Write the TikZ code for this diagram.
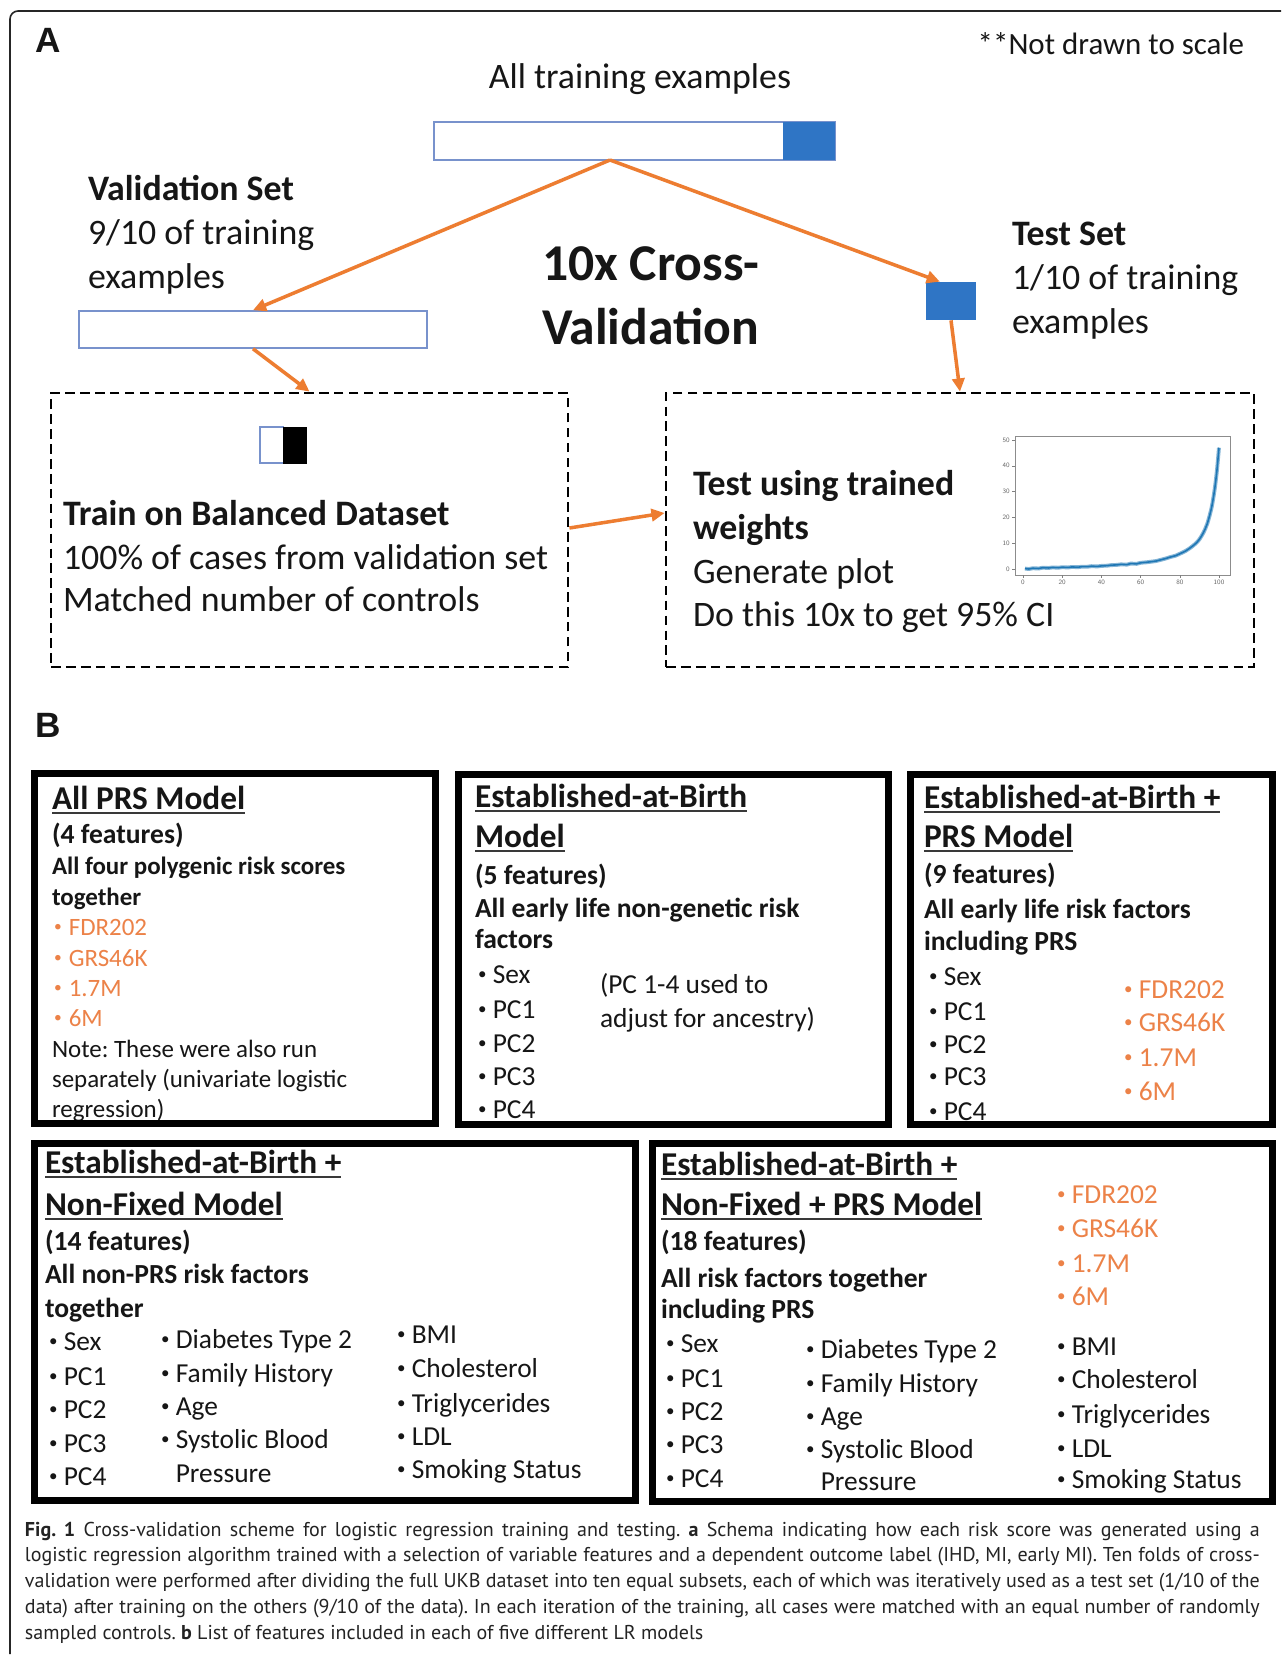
\documentclass[tikz,border=0pt]{standalone}
\usepackage{fontspec}
\usepackage{graphicx}
\setmainfont{Carlito}
\newfontfamily\capfont{PT Sans}
\newfontfamily\labfont{Liberation Sans}
\usetikzlibrary{arrows.meta,fit,calc}
\frenchspacing
\definecolor{orng}{RGB}{237,125,49}
\definecolor{orngtxt}{RGB}{236,130,72}
\definecolor{blu}{RGB}{47,117,197}
\definecolor{barline}{RGB}{120,146,204}
\definecolor{ink}{RGB}{22,22,22}
\definecolor{capink}{RGB}{35,35,35}
\definecolor{plotblue}{RGB}{31,119,180}
\newcommand\myul[1]{\setbox0\hbox{#1}\leavevmode\rlap{\color{ink!85}\rule[-2.9pt]{\wd0}{1.1pt}}\box0}
\newcommand\bul{\makebox[9pt][l]{\hspace{0.6pt}\raisebox{0.13em}{\scalebox{0.62}{•}}}}
\newcommand\capline[1]{\makebox[24.7cm][s]{#1}}
\tikzset{
  txt/.style={anchor=base west, inner sep=0pt, outer sep=0pt, text=ink},
  fA/.style={txt, font=\fontsize{20.4pt}{24pt}\selectfont},
  fAb/.style={txt, font=\fontsize{20.4pt}{24pt}\selectfont\bfseries},
  fBig/.style={txt, font=\fontsize{29.4pt}{34pt}\selectfont\bfseries},
  fNote/.style={txt, anchor=base east, font=\fontsize{17.6pt}{20pt}\selectfont},
  fLab/.style={txt, font=\fontsize{20pt}{22pt}\selectfont\labfont\bfseries},
  hdtxt/.style={txt, font=\fontsize{18.95pt}{22pt}\selectfont\bfseries},
  sbtxt/.style={txt, font=\fontsize{15.7pt}{18pt}\selectfont\bfseries},
  itmtxt/.style={txt, font=\fontsize{15.6pt}{18pt}\selectfont},
  itmor/.style={itmtxt, text=orngtxt},
  sbsmall/.style={txt, font=\fontsize{14.2pt}{18pt}\selectfont\bfseries},
  itsmall/.style={txt, font=\fontsize{14.2pt}{18pt}\selectfont},
  itsmallor/.style={itsmall, text=orngtxt},
  captxt/.style={txt, text=capink, font=\fontsize{11.4pt}{14pt}\selectfont\capfont\frenchspacing},
  arr/.style={draw=orng, line width=2pt, -{Triangle[length=7.5pt,width=7pt]}},
  dbox/.style={draw=black, line width=1.6pt, dash pattern=on 5.5pt off 3pt, inner sep=0pt},
  mbox/.style={draw=black, line width=4pt, inner sep=0pt},
  barbox/.style={draw=barline, line width=0.9pt, inner sep=0pt},
  ticklab/.style={inner sep=0pt, text=black!60, font=\fontsize{3.8pt}{4pt}\selectfont\sffamily},
}
\begin{document}
\begin{tikzpicture}[x=0.02cm, y=-0.02cm]
\useasboundingbox (0,0) rectangle (1281,1656);
\fill[white] (0,0) rectangle (1281,1656);
% outer frame
\draw[line width=0.9pt, black!85, rounded corners=0.16cm] (10,1654) -- (10,11) -- (1281,11);

% ---------------- Part A ----------------
\node[fLab] (labA) at (35,53) {A};
\node[fNote] (note) at (1244,55) {**Not drawn to scale};
\node[fA, anchor=base] (alltxt) at (640,89) {All training examples};

\node[barbox, fit={(434,122) (835,160)}] (topbar) {};
\node[fill=blu, inner sep=0pt, fit={(783,122.5) (834.5,159.5)}] (topblue) {};
\coordinate (split) at (610,160);

\node[fAb] (valset) at (88,200) {Validation Set};
\node[fA] (val2) at (88,244) {9/10 of training};
\node[fA] (val3) at (88,288) {examples};

\node[fBig] (cv1) at (542,280) {10x Cross-};
\node[fBig] (cv2) at (542,344) {Validation};

\node[fAb] (testset) at (1012,245) {Test Set};
\node[fA] (test2) at (1012,289) {1/10 of training};
\node[fA] (test3) at (1012,333) {examples};

\node[barbox, fit={(79,311) (427,348)}] (leftbar) {};
\node[fill=blu, inner sep=0pt, fit={(926,282) (976,320)}] (bluesq) {};

\node[dbox, fit={(51,393) (568,667)}] (lbox) {};
\node[dbox, fit={(666,393) (1254,667)}] (rbox) {};

% balanced mini box
\node[draw=barline, line width=0.8pt, fill=white, inner sep=0pt, fit={(260,427) (283.5,463)}] (balw) {};
\node[draw=black, fill=black, inner sep=0pt, fit={(283.5,427) (306,463)}] (balb) {};

\node[fAb] (tr1) at (63,525) {Train on Balanced Dataset};
\node[fA] (tr2) at (63,569) {100\% of cases from validation set};
\node[fA] (tr3) at (63,611) {Matched number of controls};

\node[fAb] (te1) at (693,495) {Test using trained};
\node[fAb] (te2) at (693,539) {weights};
\node[fA] (te3) at (693,583) {Generate plot};
\node[fA] (te4) at (693,626) {Do this 10x to get 95\% CI};

% plot
\node[draw=black!45, line width=0.4pt, inner sep=0pt, fit={(1015,436) (1230,575)}] (plotframe) {};
\foreach \v [count=\i] in {0,10,20,30,40,50}{
  \coordinate (ytk\i) at (1015,569-2.58*\v);
  \draw[black!50, line width=0.3pt] (ytk\i) -- ++(-3,0);
  \node[ticklab, anchor=east] (ylab\i) at (1010,569-2.58*\v) {\v};
}
\foreach \v [count=\i] in {0,20,40,60,80,100}{
  \coordinate (xtk\i) at (1023+1.96*\v,575);
  \draw[black!50, line width=0.3pt] (xtk\i) -- ++(0,3);
  \node[ticklab, anchor=north] (xlab\i) at (1023+1.96*\v,580) {\v};
}
\begin{scope}[shift={(1023,569)}, x=0.0392cm, y=0.0516cm]
\draw[plotblue!55, line width=2.2pt, line join=round] plot[smooth] coordinates {
 (1,0.2) (3,0.0) (5,0.3) (8,0.2) (10,0.5) (13,0.4) (15,0.6) (18,0.5) (20,0.7) (23,0.6)
 (25,0.8) (28,0.7) (30,0.9) (33,0.9) (35,1.1) (38,1.0) (40,1.2) (43,1.3) (45,1.5)
 (48,1.6) (50,1.8) (53,1.7) (55,2.1) (58,2.0) (60,2.4) (63,2.6) (65,2.8) (68,3.1)
 (70,3.5) (73,4.1) (75,4.6) (78,5.2) (80,5.9) (83,7.0) (85,8.0) (88,9.8) (90,11.5)
 (92,14) (94,17.5) (96,23) (97,27) (98,32) (99,38.5) (100,47)};
\draw[plotblue, line width=0.9pt, line join=round] plot[smooth] coordinates {
 (1,0.2) (3,0.0) (5,0.3) (8,0.2) (10,0.5) (13,0.4) (15,0.6) (18,0.5) (20,0.7) (23,0.6)
 (25,0.8) (28,0.7) (30,0.9) (33,0.9) (35,1.1) (38,1.0) (40,1.2) (43,1.3) (45,1.5)
 (48,1.6) (50,1.8) (53,1.7) (55,2.1) (58,2.0) (60,2.4) (63,2.6) (65,2.8) (68,3.1)
 (70,3.5) (73,4.1) (75,4.6) (78,5.2) (80,5.9) (83,7.0) (85,8.0) (88,9.8) (90,11.5)
 (92,14) (94,17.5) (96,23) (97,27) (98,32) (99,38.5) (100,47)};
\end{scope}

% arrows
\draw[arr] (split) -- (leftbar.north);
\draw[arr] (split) -- ($(bluesq.north west)!0.28!(bluesq.north east)$);
\draw[arr] (leftbar.south) -- (lbox.north);
\draw[arr] (bluesq.south) -- (rbox.north);
\draw[arr] ($(lbox.east)+(0,-2)$) -- ($(rbox.west)+(0,-17)$);

% ---------------- Part B ----------------
\node[fLab] (labB) at (35,737) {B};

% Box 1
\node[hdtxt] (b1h) at (52,809) {\myul{All PRS Model}};
\node[sbtxt] (b1f) at (52,843) {(4 features)};
\node[sbsmall] (b1d1) at (52,874) {All four polygenic risk scores};
\node[sbsmall] (b1d2) at (52,905) {together};
\node[itsmallor] (b1o1) at (53,935) {\bul FDR202};
\node[itsmallor] (b1o2) at (53,966) {\bul GRS46K};
\node[itsmallor] (b1o3) at (53,996) {\bul 1.7M};
\node[itsmallor] (b1o4) at (53,1026) {\bul 6M};
\node[itsmall] (b1n1) at (52,1057) {Note: These were also run};
\node[itsmall] (b1n2) at (52,1087) {separately (univariate logistic};
\node[itsmall] (b1n3) at (52,1117) {regression)};

% Box 2
\node[hdtxt] (b2h1) at (475,807) {\myul{Established-at-Birth}};
\node[hdtxt] (b2h2) at (475,847) {\myul{Model}};
\node[sbtxt] (b2f) at (475,884) {(5 features)};
\node[sbtxt] (b2d1) at (475,917) {All early life non-genetic risk};
\node[sbtxt] (b2d2) at (475,948) {factors};
\node[itmtxt] (b2i1) at (477,983) {\bul Sex};
\node[itmtxt] (b2i2) at (477,1018) {\bul PC1};
\node[itmtxt] (b2i3) at (477,1052) {\bul PC2};
\node[itmtxt] (b2i4) at (477,1085) {\bul PC3};
\node[itmtxt] (b2i5) at (477,1118) {\bul PC4};
\node[itmtxt] (b2p1) at (600,993) {(PC 1-4 used to};
\node[itmtxt] (b2p2) at (600,1027) {adjust for ancestry)};

% Box 3
\node[hdtxt] (b3h1) at (924,808) {\myul{Established-at-Birth +}};
\node[hdtxt] (b3h2) at (924,847) {\myul{PRS Model}};
\node[sbtxt] (b3f) at (924,883) {(9 features)};
\node[sbtxt] (b3d1) at (924,918) {All early life risk factors};
\node[sbtxt] (b3d2) at (924,950) {including PRS};
\node[itmtxt] (b3i1) at (928,985) {\bul Sex};
\node[itmtxt] (b3i2) at (928,1020) {\bul PC1};
\node[itmtxt] (b3i3) at (928,1053) {\bul PC2};
\node[itmtxt] (b3i4) at (928,1085) {\bul PC3};
\node[itmtxt] (b3i5) at (928,1120) {\bul PC4};
\node[itmor] (b3o1) at (1123,998) {\bul FDR202};
\node[itmor] (b3o2) at (1123,1031) {\bul GRS46K};
\node[itmor] (b3o3) at (1123,1066) {\bul 1.7M};
\node[itmor] (b3o4) at (1123,1100) {\bul 6M};

% Box 4
\node[hdtxt] (b4h1) at (45,1173) {\myul{Established-at-Birth +}};
\node[hdtxt] (b4h2) at (45,1215) {\myul{Non-Fixed Model}};
\node[sbtxt] (b4f) at (45,1250) {(14 features)};
\node[sbtxt] (b4d1) at (45,1283) {All non-PRS risk factors};
\node[sbtxt] (b4d2) at (45,1317) {together};
\node[itmtxt] (b4a1) at (48,1350) {\bul Sex};
\node[itmtxt] (b4a2) at (48,1385) {\bul PC1};
\node[itmtxt] (b4a3) at (48,1418) {\bul PC2};
\node[itmtxt] (b4a4) at (48,1452) {\bul PC3};
\node[itmtxt] (b4a5) at (48,1485) {\bul PC4};
\node[itmtxt] (b4b1) at (160,1348) {\bul Diabetes Type 2};
\node[itmtxt] (b4b2) at (160,1382) {\bul Family History};
\node[itmtxt] (b4b3) at (160,1415) {\bul Age};
\node[itmtxt] (b4b4) at (160,1448) {\bul Systolic Blood};
\node[itmtxt] (b4b5) at (160,1482) {\hspace*{9pt}Pressure};
\node[itmtxt] (b4c1) at (396,1343) {\bul BMI};
\node[itmtxt] (b4c2) at (396,1377) {\bul Cholesterol};
\node[itmtxt] (b4c3) at (396,1412) {\bul Triglycerides};
\node[itmtxt] (b4c4) at (396,1445) {\bul LDL};
\node[itmtxt] (b4c5) at (396,1478) {\bul Smoking Status};

% Box 5
\node[hdtxt] (b5h1) at (661,1175) {\myul{Established-at-Birth +}};
\node[hdtxt] (b5h2) at (661,1215) {\myul{Non-Fixed + PRS Model}};
\node[sbtxt] (b5f) at (661,1250) {(18 features)};
\node[sbtxt] (b5d1) at (661,1287) {All risk factors together};
\node[sbtxt] (b5d2) at (661,1318) {including PRS};
\node[itmtxt] (b5a1) at (665,1352) {\bul Sex};
\node[itmtxt] (b5a2) at (665,1387) {\bul PC1};
\node[itmtxt] (b5a3) at (665,1420) {\bul PC2};
\node[itmtxt] (b5a4) at (665,1453) {\bul PC3};
\node[itmtxt] (b5a5) at (665,1487) {\bul PC4};
\node[itmtxt] (b5b1) at (805,1358) {\bul Diabetes Type 2};
\node[itmtxt] (b5b2) at (805,1392) {\bul Family History};
\node[itmtxt] (b5b3) at (805,1425) {\bul Age};
\node[itmtxt] (b5b4) at (805,1458) {\bul Systolic Blood};
\node[itmtxt] (b5b5) at (805,1490) {\hspace*{9pt}Pressure};
\node[itmtxt] (b5c1) at (1056,1355) {\bul BMI};
\node[itmtxt] (b5c2) at (1056,1388) {\bul Cholesterol};
\node[itmtxt] (b5c3) at (1056,1423) {\bul Triglycerides};
\node[itmtxt] (b5c4) at (1056,1457) {\bul LDL};
\node[itmtxt] (b5c5) at (1056,1488) {\bul Smoking Status};
\node[itmor] (b5o1) at (1056,1203) {\bul FDR202};
\node[itmor] (b5o2) at (1056,1237) {\bul GRS46K};
\node[itmor] (b5o3) at (1056,1272) {\bul 1.7M};
\node[itmor] (b5o4) at (1056,1305) {\bul 6M};

% thick model boxes (drawn over text)
\node[mbox, fit={(34.5,773.5) (435.5,1123.5)}] (box1) {};
\node[mbox, fit={(458.5,774.5) (888.5,1124.5)}] (box2) {};
\node[mbox, fit={(910.5,774.5) (1272.5,1124.5)}] (box3) {};
\node[mbox, fit={(34.5,1143.5) (635.5,1500.5)}] (box4) {};
\node[mbox, fit={(652.5,1143.5) (1272.5,1501.5)}] (box5) {};

% ---------------- Caption ----------------
\node[captxt] (cap1) at (25,1536) {\capline{\textbf{Fig. 1} Cross-validation scheme for logistic regression training and testing. \textbf{a} Schema indicating how each risk score was generated using a}};
\node[captxt] (cap2) at (25,1561) {\capline{logistic regression algorithm trained with a selection of variable features and a dependent outcome label (IHD, MI, early MI). Ten folds of cross-}};
\node[captxt] (cap3) at (25,1587) {\capline{validation were performed after dividing the full UKB dataset into ten equal subsets, each of which was iteratively used as a test set (1/10 of the}};
\node[captxt] (cap4) at (25,1613) {\capline{data) after training on the others (9/10 of the data). In each iteration of the training, all cases were matched with an equal number of randomly}};
\node[captxt] (cap5) at (25,1639) {sampled controls. \textbf{b} List of features included in each of five different LR models};
\end{tikzpicture}
\end{document}
